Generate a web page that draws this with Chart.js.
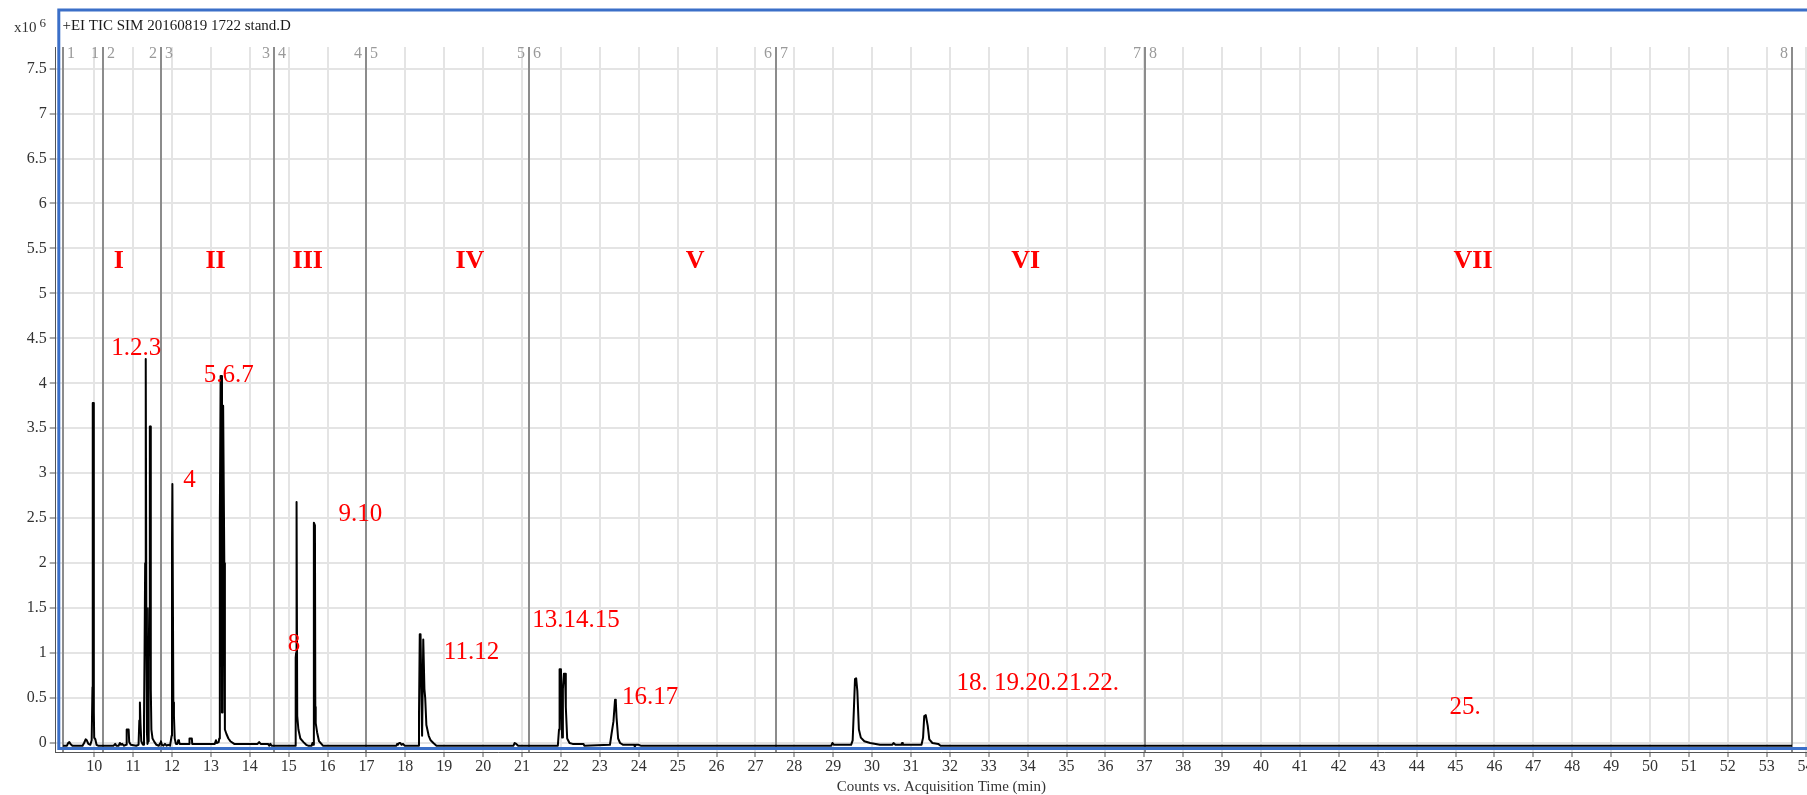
<!DOCTYPE html>
<html>
<head>
<meta charset="utf-8">
<title>+EI TIC SIM 20160819 1722 stand.D</title>
<script src="https://cdn.jsdelivr.net/npm/chart.js@4/dist/chart.umd.min.js"></script>
<style>
  html, body { margin: 0; padding: 0; background: #fff; overflow: hidden; }
  #wrap { position: relative; width: 1807px; height: 795px; overflow: hidden; }
  canvas { position: absolute; left: 0; top: 0; }
</style>
</head>
<body>
<div id="wrap"><canvas id="tic" width="1860" height="795"></canvas></div>
<script>
// Total ion chromatogram, counts in units of 10^6, time in minutes.
// One array per acquisition time segment: [time, counts].
const segment1 = [
  [9.20,-0.03],[9.30,-0.03],[9.33,0.00],[9.36,0.01],[9.39,-0.01],[9.44,-0.03],[9.70,-0.03],
  [9.74,0.00],[9.78,0.04],[9.81,0.03],[9.85,-0.01],[9.90,-0.02],[9.935,0.03],[9.955,0.62],
  [9.96,1.18],[9.965,3.78],[9.98,3.78],[9.99,0.35],[10.00,0.06],[10.03,0.04],[10.06,-0.02],
  [10.10,-0.03],[10.23,-0.03]
];
const segment2 = [
  [10.50,-0.03],[10.54,-0.01],[10.57,-0.03],[10.63,-0.03],[10.66,0.00],[10.69,-0.02],[10.72,-0.01],
  [10.76,-0.03],[10.82,-0.02],[10.835,0.15],[10.885,0.15],[10.90,0.01],[10.94,-0.02],[11.08,-0.03],
  [11.14,-0.02],[11.16,0.25],[11.175,0.45],[11.19,0.22],[11.21,0.02],[11.24,-0.01],[11.26,-0.02],
  [11.28,0.25],[11.295,1.03],[11.31,2.00],[11.32,4.27],[11.33,4.27],[11.34,1.50],[11.355,0.12],
  [11.37,-0.01],[11.385,0.02],[11.40,0.90],[11.415,1.50],[11.43,3.52],[11.445,3.52],[11.455,0.60],
  [11.47,0.15],[11.50,0.05],[11.55,0.01],[11.60,-0.02],[11.66,-0.03],[11.70,0.00],[11.715,0.02]
];
const segment3 = [
  [11.74,-0.02],[11.78,-0.03],[11.82,-0.01],[11.86,-0.03],[11.90,-0.02],[11.95,-0.03],[11.99,0.08],
  [12.00,2.20],[12.01,2.88],[12.025,2.88],[12.035,0.45],[12.05,0.30],[12.07,0.05],[12.10,-0.01],
  [12.14,-0.01],[12.16,0.03],[12.18,0.02],[12.20,-0.01],[12.44,-0.01],[12.45,0.05],[12.51,0.05],
  [12.52,-0.01],[13.10,-0.01],[13.13,0.03],[13.15,0.00],[13.20,0.01],[13.215,0.05],[13.23,2.50],
  [13.25,4.08],[13.265,4.08],[13.285,0.34],[13.30,0.34],[13.315,3.75],[13.33,3.75],[13.345,2.00],
  [13.36,0.15],[13.40,0.10],[13.45,0.05],[13.50,0.02],[13.60,-0.01],[14.20,-0.01],[14.24,0.01],
  [14.28,-0.01],[14.47,-0.01],[14.50,-0.03],[14.53,-0.01],[14.56,-0.03],[14.62,-0.03]
];
const segment4 = [
  [15.17,-0.03],[15.18,0.95],[15.19,1.00],[15.195,2.68],[15.21,2.68],[15.22,0.30],[15.25,0.15],
  [15.30,0.05],[15.38,0.01],[15.45,-0.02],[15.50,-0.03],[15.59,-0.03],[15.61,0.00],[15.63,-0.02],
  [15.645,0.20],[15.65,2.45],[15.675,2.42],[15.685,0.40],[15.695,0.22],[15.73,0.12],[15.78,0.02],
  [15.88,-0.03],[17.00,-0.03]
];
const segment5 = [
  [17.77,-0.03],[17.79,-0.01],[17.81,-0.02],[17.84,0.00],[17.87,0.00],[17.90,-0.02],[17.94,-0.01],
  [17.98,-0.03],[18.33,-0.03],[18.35,0.30],[18.37,1.21],[18.39,1.21],[18.41,0.60],[18.43,0.08],
  [18.445,0.08],[18.46,1.15],[18.475,1.15],[18.49,0.60],[18.51,0.50],[18.54,0.20],[18.60,0.08],
  [18.65,0.03],[18.72,0.00],[18.80,-0.03],[20.78,-0.03],[20.81,0.00],[20.85,-0.01],[20.90,-0.03]
];
const segment6 = [
  [21.92,-0.03],[21.95,0.15],[21.965,0.82],[22.00,0.82],[22.015,0.30],[22.03,0.06],[22.05,0.60],
  [22.075,0.77],[22.105,0.77],[22.125,0.40],[22.16,0.05],[22.22,0.00],[22.30,-0.01],[22.58,-0.01],
  [22.60,-0.03],[23.26,-0.02],[23.30,0.10],[23.35,0.24],[23.39,0.48],[23.41,0.46],[23.43,0.28],
  [23.47,0.05],[23.52,0.00],[23.60,-0.02],[23.88,-0.02],[23.90,-0.04],[23.92,-0.02],[24.00,-0.02],
  [24.05,-0.03]
];
const segment7 = [
  [28.95,-0.03],[28.98,0.00],[29.02,-0.02],[29.46,-0.02],[29.50,0.03],[29.53,0.36],[29.56,0.71],
  [29.59,0.72],[29.62,0.58],[29.66,0.15],[29.71,0.06],[29.80,0.02],[29.95,0.00],[30.20,-0.02],
  [30.52,-0.02],[30.55,0.00],[30.60,-0.02],[30.75,-0.02],[30.77,0.00],[30.79,-0.02],[31.27,-0.02],
  [31.31,0.06],[31.34,0.30],[31.38,0.31],[31.43,0.19],[31.47,0.04],[31.55,0.00],[31.70,-0.01],
  [31.76,-0.03]
];
const segment8 = [[37.02,-0.03],[53.65,-0.03]];

// Time segment boundaries (min); numbers 1..8 are written beside them.
const segmentBounds = [9.20, 10.23, 11.715, 14.62, 17.00, 21.18, 27.52, 37.02, 53.65];

// Axis ranges and tick steps.
const timeRange = [9.01, 54.55];
const countRange = [-0.1, 7.74];
const timeStep = 1;
const countStep = 0.5;

// Compound group numerals, anchored at [time, counts].
const groupLabels = [
  ['I', 10.63, 5.36], ['II', 13.12, 5.36], ['III', 15.49, 5.36], ['IV', 19.66, 5.36],
  ['V', 25.45, 5.36], ['VI', 33.95, 5.36], ['VII', 45.45, 5.36]
];
// Peak numbers, anchored at [time, counts].
const peakLabels = [
  ['1.2.3', 11.08, 4.385], ['5.6.7', 13.456, 4.088], ['4', 12.453, 2.92], ['9.10', 16.84, 2.538],
  ['8', 15.135, 1.096], ['11.12', 19.70, 1.01], ['13.14.15', 22.386, 1.363], ['16.17', 24.29, 0.509],
  ['18. 19.20.21.22.', 34.26, 0.657], ['25.', 45.245, 0.398]
];

const SERIF = '"Liberation Serif", "Times New Roman", serif';

const points = [segment1, segment2, segment3, segment4, segment5, segment6, segment7, segment8]
  .flat().map(([t, c]) => ({ x: t, y: c }));

const decorations = {
  id: 'decorations',
  beforeDatasetsDraw(chart) {
    const { ctx, chartArea: a, scales: { x } } = chart;
    ctx.save();
    ctx.strokeStyle = '#8c8c8c';
    ctx.lineWidth = 2;
    segmentBounds.forEach(t => {
      const px = Math.round(x.getPixelForValue(t));
      ctx.beginPath();
      ctx.moveTo(px, a.top);
      ctx.lineTo(px, a.bottom);
      ctx.stroke();
    });
    ctx.font = '16px ' + SERIF;
    ctx.fillStyle = '#9a9a9a';
    ctx.textBaseline = 'middle';
    const ty = a.top + 7;
    segmentBounds.forEach((t, i) => {
      const px = Math.round(x.getPixelForValue(t));
      if (i > 0) { ctx.textAlign = 'right'; ctx.fillText(String(i), px - 4, ty); }
      if (i < segmentBounds.length - 1) { ctx.textAlign = 'left'; ctx.fillText(String(i + 1), px + 4, ty); }
    });
    ctx.restore();
  },
  afterDatasetsDraw(chart) {
    const { ctx, scales: { x, y } } = chart;
    ctx.save();
    ctx.fillStyle = '#ff0000';
    ctx.textAlign = 'center';
    ctx.textBaseline = 'middle';
    ctx.font = 'bold 26px ' + SERIF;
    groupLabels.forEach(([s, t, c]) => ctx.fillText(s, x.getPixelForValue(t), y.getPixelForValue(c)));
    ctx.font = '25px ' + SERIF;
    peakLabels.forEach(([s, t, c]) => ctx.fillText(s, x.getPixelForValue(t), y.getPixelForValue(c)));

    // panel frame
    ctx.strokeStyle = '#3b6fc8';
    ctx.lineWidth = 3;
    ctx.beginPath();
    ctx.moveTo(1900, 10);
    ctx.lineTo(58.8, 10);
    ctx.lineTo(58.8, 748.5);
    ctx.lineTo(1900, 748.5);
    ctx.stroke();

    // panel title and count multiplier
    ctx.fillStyle = '#1a1a1a';
    ctx.textAlign = 'left';
    ctx.font = '15px ' + SERIF;
    ctx.fillText('+EI TIC SIM 20160819 1722 stand.D', 62.5, 26);
    ctx.fillStyle = '#333';
    ctx.fillText('x10', 14, 28.5);
    ctx.font = '13px ' + SERIF;
    ctx.fillText('6', 39.5, 23.5);
    ctx.restore();
  }
};

new Chart(document.getElementById('tic'), {
  type: 'line',
  data: {
    datasets: [{
      data: points,
      borderColor: '#000',
      borderWidth: 2,
      borderJoinStyle: 'round',
      pointRadius: 0,
      tension: 0,
      fill: false
    }]
  },
  options: {
    responsive: false,
    animation: false,
    devicePixelRatio: 1,
    events: [],
    layout: { padding: { left: 0, top: 47, right: 33, bottom: 0 } },
    plugins: { legend: { display: false }, tooltip: { enabled: false } },
    scales: {
      x: {
        type: 'linear',
        min: timeRange[0],
        max: timeRange[1],
        afterFit(s) { s.height = 43; },
        border: { display: true, color: '#555', width: 1 },
        grid: { color: '#e4e4e4', lineWidth: 2, drawTicks: true, tickLength: 5, tickColor: '#555', tickWidth: 1 },
        ticks: {
          stepSize: timeStep, includeBounds: false, autoSkip: false, maxRotation: 0,
          padding: 0, color: '#333', font: { family: SERIF, size: 16 },
          callback: v => String(Math.round(v))
        },
        title: {
          display: true, text: 'Counts vs. Acquisition Time (min)', color: '#333',
          font: { family: SERIF, size: 15, lineHeight: 1 }, padding: { top: 0, bottom: 0.8 }
        }
      },
      y: {
        min: countRange[0],
        max: countRange[1],
        afterFit(s) { s.width = 55.7; },
        border: { display: true, color: '#555', width: 1 },
        grid: { color: '#e4e4e4', lineWidth: 2, drawTicks: true, tickLength: 6, tickColor: '#555', tickWidth: 1 },
        ticks: {
          stepSize: countStep, includeBounds: false, padding: 3, color: '#333',
          font: { family: SERIF, size: 16 },
          callback: v => String(Math.round(v * 10) / 10)
        }
      }
    }
  },
  plugins: [decorations]
});
</script>
</body>
</html>
